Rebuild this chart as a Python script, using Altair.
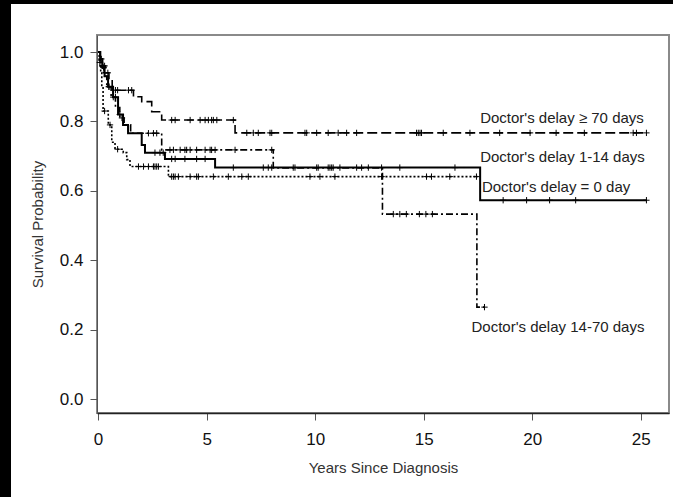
import altair as alt
import pandas as pd

# ---- Kaplan-Meier step data (years, survival) ----
g70_t = [0, 0.1, 0.2, 0.35, 0.5, 0.65, 1.63, 2.01, 2.47, 2.93, 6.31, 25.26]
g70_s = [1.0, 0.98, 0.96, 0.94, 0.92, 0.89, 0.871, 0.857, 0.828, 0.804, 0.767, 0.767]
g70_c = [0.15, 0.3, 0.45, 0.8, 0.9, 1.4, 1.55, 3.39, 3.55, 4.24, 4.7, 4.93, 5.08, 5.23, 5.31,
         5.47, 6.23, 6.85, 7.15, 7.38, 7.92, 8.0, 9.53, 9.61, 10.07, 10.6, 11.06, 11.45, 11.91,
         14.67, 14.75, 14.83, 14.9, 15.9, 17.13, 18.5, 19.9, 21.1, 22.4, 24.65, 24.8, 25.26]

g114_t = [0, 0.1, 0.2, 0.3, 0.46, 0.69, 0.92, 1.15, 1.38, 2.01, 2.16, 3.08, 5.39, 17.6, 25.26]
g114_s = [1.0, 0.98, 0.955, 0.93, 0.90, 0.87, 0.82, 0.79, 0.766, 0.732, 0.71, 0.692, 0.667, 0.573, 0.573]
g114_c = [0.25, 0.5, 0.8, 1.0, 2.62, 2.85, 3.0, 3.39, 3.55, 4.0, 4.54, 4.93, 6.23, 7.61, 7.84, 8.0,
          8.99, 9.07, 10.07, 10.14, 10.6, 10.68, 10.76, 10.83, 11.14, 11.91, 12.14, 12.45, 13.06,
          13.9, 16.44, 18.66, 19.74, 20.8, 22.0, 25.26]

g0_t = [0, 0.05, 0.12, 0.17, 0.23, 0.47, 0.63, 0.78, 1.16, 1.32, 1.47, 3.24, 17.5]
g0_s = [1.0, 0.97, 0.94, 0.90, 0.83, 0.79, 0.74, 0.72, 0.71, 0.69, 0.67, 0.641, 0.641]
g0_c = [0.08, 0.3, 0.55, 0.9, 1.86, 2.09, 2.32, 2.55, 2.62, 2.7, 2.78, 3.39, 3.47, 3.55, 3.7,
        4.24, 4.54, 4.62, 5.31, 6.0, 6.62, 6.92, 9.76, 10.22, 10.91, 13.06, 15.13, 15.36, 16.2, 17.43]

g1470_t = [0, 0.1, 0.25, 0.4, 0.6, 0.8, 1.0, 1.2, 1.5, 2.93, 8.07, 13.1, 17.45, 17.8]
g1470_s = [1.0, 0.96, 0.93, 0.90, 0.87, 0.84, 0.81, 0.79, 0.766, 0.718, 0.666, 0.533, 0.265, 0.265]
g1470_c = [0.2, 0.5, 0.7, 1.1, 2.32, 2.55, 2.7, 3.31, 3.47, 3.78, 4.0, 4.08, 4.24, 4.54, 4.93,
           5.16, 5.23, 5.39, 6.31, 8.0, 13.6, 13.9, 14.2, 14.8, 15.1, 15.4, 17.8]

label_text = ["Doctor's delay \u2265 70 days", "Doctor's delay 1-14 days",
              "Doctor's delay = 0 day", "Doctor's delay 14-70 days"]
label_x = [17.6, 17.6, 17.68, 17.2]
label_y = [0.81, 0.697, 0.611, 0.207]

x_ticks = [0, 5, 10, 15, 20, 25]
y_ticks = [0.0, 0.2, 0.4, 0.6, 0.8, 1.0]

X_DOM = [-0.05, 26.3]
Y_DOM = [-0.04, 1.049]

groups = [
    ("g70", g70_t, g70_s, g70_c, [10, 4], 1.6),
    ("g114", g114_t, g114_s, g114_c, [1, 0], 2.0),
    ("g0", g0_t, g0_s, g0_c, [2, 2], 1.6),
    ("g1470", g1470_t, g1470_s, g1470_c, [7, 3, 2, 3], 1.6),
]


def surv_at(ts, ss, t):
    v = ss[0]
    for ti, si in zip(ts, ss):
        if ti <= t:
            v = si
    return v


xs = alt.Scale(domain=X_DOM, nice=False, zero=False)
ys = alt.Scale(domain=Y_DOM, nice=False, zero=False)

layers = []

# decoration: black border bands on left and top of the picture
deco = pd.DataFrame({"a": [0]})
layers.append(alt.Chart(deco).mark_rect(color="black").encode(
    x=alt.value(-97), x2=alt.value(-86), y=alt.value(-35), y2=alt.value(462)))
layers.append(alt.Chart(deco).mark_rect(color="black").encode(
    x=alt.value(-97), x2=alt.value(576), y=alt.value(-35), y2=alt.value(-31)))

first = True
for name, ts, ss, cs, dash, sw in groups:
    df = pd.DataFrame({"t": ts, "s": ss})
    if first:
        xenc = alt.X("t:Q", scale=xs, axis=alt.Axis(
            values=x_ticks, title="Years Since Diagnosis", format="d"))
        yenc = alt.Y("s:Q", scale=ys, axis=alt.Axis(
            values=y_ticks, title="Survival Probability", format=".1f"))
        first = False
    else:
        xenc = alt.X("t:Q", scale=xs)
        yenc = alt.Y("s:Q", scale=ys)
    layers.append(alt.Chart(df).mark_line(
        interpolate="step-after", color="black", strokeWidth=sw, strokeDash=dash
    ).encode(x=xenc, y=yenc))
    cdf = pd.DataFrame({"t": cs, "s": [surv_at(ts, ss, c) for c in cs]})
    layers.append(alt.Chart(cdf).mark_point(
        shape="M-1,0L1,0M0,-1L0,1", size=40, filled=False, color="black",
        strokeWidth=1, opacity=1
    ).encode(x=alt.X("t:Q", scale=xs), y=alt.Y("s:Q", scale=ys)))

ldf = pd.DataFrame({"t": label_x, "s": label_y, "txt": label_text})
layers.append(alt.Chart(ldf).mark_text(
    align="left", baseline="middle", fontSize=15, font="Liberation Sans", color="#222"
).encode(x=alt.X("t:Q", scale=xs), y=alt.Y("s:Q", scale=ys), text="txt:N"))

chart = alt.layer(*layers).properties(
    width=572, height=378,
    autosize=alt.AutoSizeParams(type="none"),
    padding={"left": 97, "top": 35, "right": 4, "bottom": 84},
    background="white",
).configure_view(
    stroke="#8a8a8a", strokeWidth=2, fill="white"
).configure_axis(
    labelFont="Liberation Sans", titleFont="Liberation Sans",
    labelFontSize=17, labelColor="#111", titleColor="#333",
    titleFontWeight="normal", tickColor="#555", tickSize=7, grid=False,
    domainColor="#555",
).configure_axisX(
    titleFontSize=15, labelPadding=11, titlePadding=13, domainColor="#222", domainWidth=1.5
).configure_axisY(
    titleFontSize=15, labelPadding=7, titlePadding=14
)

chart.save("out.html", embed_options={"renderer": "svg", "actions": False})
